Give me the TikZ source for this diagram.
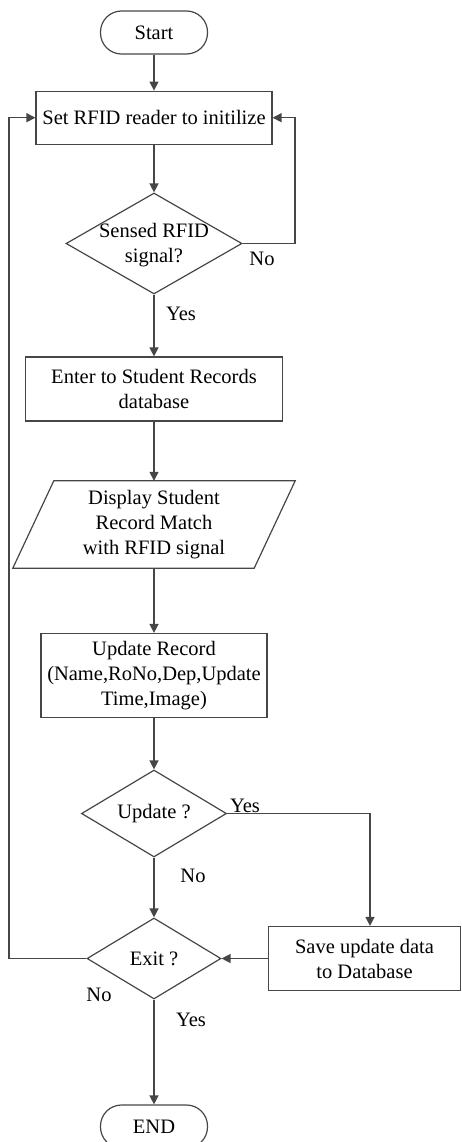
\documentclass[tikz,border=0pt]{standalone}
\usepackage{fontspec}
\setmainfont{Liberation Serif}
\usetikzlibrary{shapes.geometric,arrows.meta}
\definecolor{ln}{RGB}{70,70,70}
\begin{document}
\begin{tikzpicture}[x=1pt,y=-1pt,
  font=\fontsize{20.5}{25}\selectfont,
  line/.style={draw=ln,line width=1.4pt},
  arr/.style={line,-{Triangle[length=9pt,width=9pt]}},
  term/.style={draw=ln,line width=1.2pt,rectangle,rounded corners=21pt,minimum width=107pt,minimum height=43pt,inner sep=0pt},
  proc/.style={draw=ln,line width=1.2pt,rectangle,inner sep=0pt,align=center},
  dec/.style={draw=ln,line width=1.2pt,diamond,inner sep=0pt},
  lbl/.style={anchor=base,inner sep=0pt}
]
\useasboundingbox (0,0) rectangle (461,1142);
\node[term] (start) at (154,32.5) {Start};
\node[proc,minimum width=236pt,minimum height=53pt] (b1) at (154,117.7) {Set RFID reader to initilize};
\node[dec,minimum width=176pt,minimum height=101pt] (d1) at (154,243.5) {};
\node[align=center,inner sep=0pt] (d1t) at (154,245) {Sensed RFID\\signal?};
\node[proc,minimum width=257pt,minimum height=64pt] (b2) at (154,389) {Enter to Student Records\\database};
\node[align=center,inner sep=0pt,minimum width=241pt,minimum height=87pt] (disp) at (154,524.5) {Display Student\\Record Match\\with RFID signal};
\draw[draw=ln,line width=1.2pt] ([xshift=-20.5pt]disp.south west) -- ([xshift=20.5pt]disp.north west) -- ([xshift=20.5pt]disp.north east) -- ([xshift=-20.5pt]disp.south east) -- cycle;
\node[proc,minimum width=226pt,minimum height=84pt] (b3) at (154,675.5) {Update Record\\(Name,RoNo,Dep,Update\\Time,Image)};
\node[dec,minimum width=145pt,minimum height=87pt] (d2) at (154,813.5) {};
\node[inner sep=0pt] (d2t) at (154,813.5) {Update ?};
\node[dec,minimum width=134pt,minimum height=81pt] (d3) at (154,958.5) {};
\node[inner sep=0pt] (d3t) at (154,958.5) {Exit ?};
\node[proc,minimum width=192pt,minimum height=64pt] (b4) at (364.5,958.5) {Save update data\\to Database};
\node[term] (end) at (154,1126.5) {END};
\coordinate (rc) at (295,0);
\coordinate (yc) at (370,0);
\coordinate (lc) at (9,0);
\draw[arr] (start) -- (b1);
\draw[arr] (b1) -- (d1);
\draw[arr] (d1.east) -| (rc |- b1.east) -- (b1.east);
\draw[arr] (d1.south) -- (b2.north);
\draw[arr] (b2) -- (disp);
\draw[arr] (disp) -- (b3);
\draw[arr] (b3) -- (d2);
\draw[arr] (d2.east) -| (yc |- b4.north);
\draw[arr] (d2.south) -- (d3.north);
\draw[arr] (b4.west) -- (d3.east);
\draw[arr] (d3.west) -| (lc |- b1.west) -- (b1.west);
\draw[arr] (d3.south) -- (end.north);
\node[lbl] (n1) at (262,265) {No};
\node[lbl] (y1) at (181,320.5) {Yes};
\node[lbl] (y2) at (245,812) {Yes};
\node[lbl] (n2) at (193,882.5) {No};
\node[lbl] (n3) at (99,1001) {No};
\node[lbl] (y3) at (191,1026.5) {Yes};
\end{tikzpicture}
\end{document}
